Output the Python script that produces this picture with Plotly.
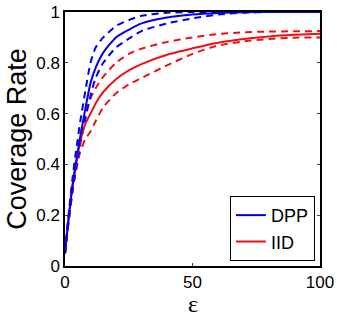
import plotly.graph_objects as go

eps = [0, 1, 2, 3, 4, 5, 6, 8, 10, 12, 15, 20, 25, 30, 40, 50, 60, 70, 80, 90, 100]

dpp_mean = [0.05, 0.15, 0.24, 0.32, 0.39, 0.45, 0.51, 0.62, 0.72, 0.78, 0.84, 0.90, 0.93, 0.955, 0.978, 0.99, 0.996, 0.999, 1, 1, 1]
dpp_upper = [0.05, 0.16, 0.26, 0.35, 0.43, 0.50, 0.57, 0.69, 0.80, 0.86, 0.90, 0.945, 0.968, 0.985, 0.997, 1, 1, 1, 1, 1, 1]
dpp_lower = [0.05, 0.14, 0.22, 0.30, 0.36, 0.42, 0.48, 0.58, 0.67, 0.74, 0.80, 0.86, 0.895, 0.925, 0.955, 0.975, 0.99, 0.997, 1, 1, 1]

iid_mean = [0.05, 0.15, 0.24, 0.32, 0.38, 0.44, 0.49, 0.56, 0.60, 0.64, 0.685, 0.735, 0.77, 0.795, 0.832, 0.857, 0.879, 0.894, 0.904, 0.91, 0.914]
iid_upper = [0.05, 0.16, 0.25, 0.33, 0.40, 0.46, 0.51, 0.60, 0.66, 0.70, 0.745, 0.80, 0.835, 0.856, 0.882, 0.90, 0.913, 0.92, 0.923, 0.924, 0.925]
iid_lower = [0.05, 0.14, 0.22, 0.30, 0.36, 0.41, 0.45, 0.50, 0.53, 0.57, 0.625, 0.68, 0.715, 0.74, 0.79, 0.835, 0.868, 0.884, 0.894, 0.899, 0.90]

BLUE = "#0000f0"
RED = "#f01010"
DASH = "7px,5px"

fig = go.Figure()
for ys, color in [(iid_upper, RED), (iid_lower, RED), (dpp_upper, BLUE), (dpp_lower, BLUE)]:
    fig.add_trace(go.Scatter(x=eps, y=ys, mode="lines", showlegend=False,
                             line=dict(color=color, width=2, dash=DASH, shape="spline", smoothing=0.6)))
fig.add_trace(go.Scatter(x=eps, y=iid_mean, mode="lines", name="IID",
                         line=dict(color=RED, width=2, shape="spline", smoothing=0.6)))
fig.add_trace(go.Scatter(x=eps, y=dpp_mean, mode="lines", name="DPP",
                         line=dict(color=BLUE, width=2, shape="spline", smoothing=0.6)))

font = "Liberation Sans, Arial, sans-serif"
fig.update_layout(
    width=337, height=320,
    margin=dict(l=65, r=17, t=12, b=54),
    paper_bgcolor="white", plot_bgcolor="white",
    font=dict(family=font, size=17, color="black"),
    legend=dict(x=0.98, y=0.02, xanchor="right", yanchor="bottom",
                bgcolor="white", bordercolor="black", borderwidth=1,
                font=dict(size=18), traceorder="reversed",
                itemwidth=30, tracegroupgap=0),
    annotations=[dict(text="ε", x=0.5, y=-0.21, xref="paper", yref="paper",
                      xanchor="center", yanchor="bottom", showarrow=False,
                      font=dict(size=24, family="Liberation Serif, serif"))],
)
fig.update_xaxes(range=[0, 100], tickvals=[0, 50, 100], ticktext=["0", "50", "100"],
                 showgrid=False, zeroline=False, showline=True, linecolor="black", linewidth=1.5,
                 mirror="allticks", ticks="inside", ticklen=3, tickcolor="#444", automargin=False)
fig.update_yaxes(range=[0, 1], tickvals=[0, 0.2, 0.4, 0.6, 0.8, 1],
                 ticktext=["0", "0.2", "0.4", "0.6", "0.8", "1"],
                 showgrid=False, zeroline=False, showline=True, linecolor="black", linewidth=1.5,
                 mirror="allticks", ticks="inside", ticklen=3, tickcolor="#444", automargin=False,
                 title=dict(text="Coverage Rate", font=dict(size=27), standoff=2))

fig.write_html("out.html")
